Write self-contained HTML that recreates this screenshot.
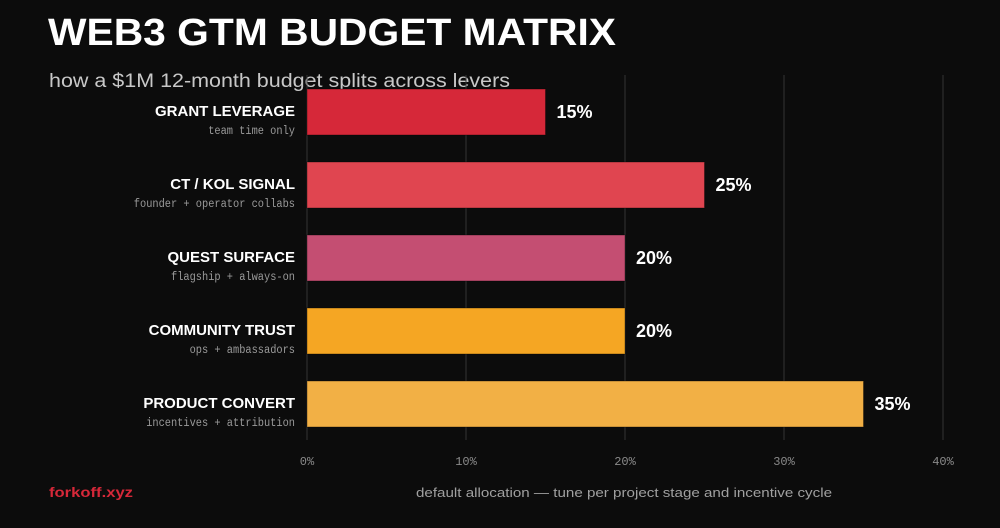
<!DOCTYPE html>
<html><head><meta charset="utf-8"><style>
html,body{margin:0;padding:0;background:#0c0c0c;}
body{width:1000px;height:523px;overflow:hidden;position:relative;font-family:"Liberation Sans",sans-serif;}
</style></head><body>
<svg width="1000" height="523" viewBox="0 0 1000 523">
<rect width="1000" height="523" fill="#0c0c0c"/>
<text x="48" y="45" fill="#fff" font-size="38" font-weight="bold" textLength="568" lengthAdjust="spacingAndGlyphs" font-family="Liberation Sans">WEB3 GTM BUDGET MATRIX</text>
<text x="49" y="87" fill="#c8c8c8" font-size="19" textLength="461" lengthAdjust="spacingAndGlyphs">how a $1M 12-month budget splits across levers</text>
<g id="grid"></g><g id="bars"></g><g id="ticks"></g>
<text x="49" y="497" fill="#d62839" font-size="14" font-weight="bold" textLength="84" lengthAdjust="spacingAndGlyphs">forkoff.xyz</text>
<text x="624" y="497" fill="#a0a0a0" font-size="13" text-anchor="middle" textLength="416" lengthAdjust="spacingAndGlyphs">default allocation — tune per project stage and incentive cycle</text>
</svg>
<script>
const categories=["GRANT LEVERAGE","CT / KOL SIGNAL","QUEST SURFACE","COMMUNITY TRUST","PRODUCT CONVERT"];
const subtitles=["team time only","founder + operator collabs","flagship + always-on","ops + ambassadors","incentives + attribution"];
const values=[15,25,20,20,35];
const colors=["#d62839","#e04550","#c44e72","#f5a623","#f2b045"];
const tickValues=[0,10,20,30,40];
const tickLabels=["0%","10%","20%","30%","40%"];
const NS="http://www.w3.org/2000/svg";
const x0=307,pxPer=15.9;
const xs=v=>x0+v*pxPer;
const ys=i=>89+i*73;
const bh=46;
function mk(t,a,p){const e=document.createElementNS(NS,t);for(const k in a)e.setAttribute(k,a[k]);p.appendChild(e);return e;}
const grid=document.getElementById('grid'),bars=document.getElementById('bars'),ticks=document.getElementById('ticks');
tickValues.forEach((v,i)=>{
  const l=mk('line',{x1:xs(v),x2:xs(v),y1:75,y2:440,stroke:'#333','stroke-width':1},grid);
  
  
  const t=mk('text',{x:xs(v),y:465,fill:'#8a8a8a','font-size':12,'text-anchor':'middle','font-family':'Liberation Mono'},ticks);
  t.textContent=tickLabels[i];
  
  
});
values.forEach((v,i)=>{
  const y=ys(i);
  const r=mk('rect',{x:x0,y:y,width:xs(v)-x0,height:bh,fill:colors[i],stroke:'rgba(0,0,0,0.35)','stroke-width':1},bars);
  
  
  const c=mk('text',{x:295,y:y+27,fill:'#fff','font-size':15,'font-weight':'bold','text-anchor':'end'},bars);
  c.textContent=categories[i];
  
  
  const s=mk('text',{x:295,y:y+45,fill:'#9a9a9a','font-size':11.5,'text-anchor':'end','font-family':'Liberation Mono','textLength':subtitles[i].length*6.2,'lengthAdjust':'spacingAndGlyphs'},bars);
  s.textContent=subtitles[i];
  
  
  const vl=mk('text',{x:xs(v)+11,y:y+29,fill:'#fff','font-size':18,'font-weight':'bold'},bars);
  vl.textContent=v+'%';
  
  
});
</script>
</body></html>
